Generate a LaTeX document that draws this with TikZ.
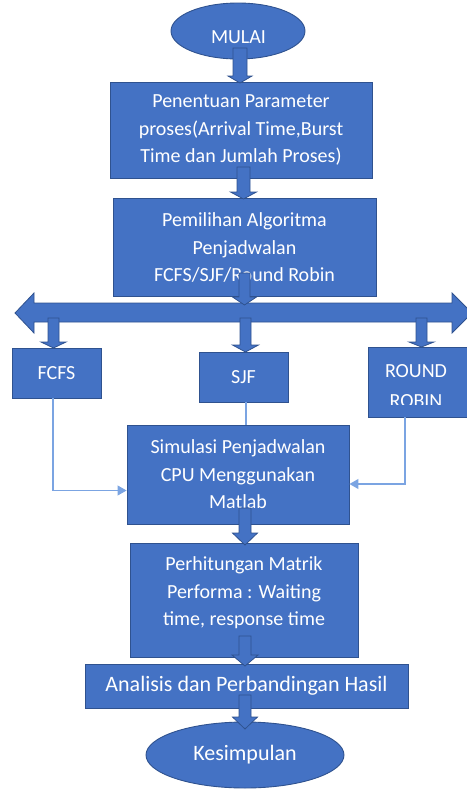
\documentclass[tikz,border=0pt]{standalone}
\usepackage{fontspec}
\setmainfont{Carlito}
\usetikzlibrary{shapes.geometric,arrows.meta}
\definecolor{fillb}{HTML}{4472C4}
\definecolor{edgeb}{HTML}{2F528F}
\definecolor{linkb}{HTML}{7BA4E2}
\tikzset{
  boxfont/.style={font=\fontsize{20}{27.5}\selectfont},
  bigfont/.style={font=\fontsize{22}{27.5}\selectfont},
  box/.style={draw=edgeb, fill=fillb, line width=0.9pt, text=white, align=center, boxfont, inner sep=0pt},
  oval/.style={box, ellipse},
  txt/.style={text=white, align=center, boxfont, inner sep=0pt},
  blk/.style={draw=edgeb, fill=fillb, line width=0.8pt, line join=miter},
  conn/.style={draw=linkb, line width=1.1pt},
  connarrow/.style={conn, -{Triangle[length=9pt,width=10pt]}}
}
% #1 centre x, #2 top y, #3 head base y, #4 tip y, #5 half shaft, #6 half head
\newcommand{\blockdown}[6]{%
  \filldraw[blk] ({#1-#5},#2) -- ({#1+#5},#2) -- ({#1+#5},#3) -- ({#1+#6},#3)
    -- (#1,#4) -- ({#1-#6},#3) -- ({#1-#5},#3) -- cycle;}
\begin{document}
\begin{tikzpicture}[x=1pt,y=-1pt]
\useasboundingbox (0,0) rectangle (466,790);

% nodes
\node[oval, minimum width=134pt, minimum height=56pt] (mulai) at (238,31) {};
\node[txt] (mulaitxt) at (238.5,37) {MULAI};
\node[box, minimum width=262pt, minimum height=96pt] (p1) at (241,130)
  {Penentuan Parameter\\proses(Arrival Time,Burst\\Time dan Jumlah Proses)};
\node[box, minimum width=263pt, minimum height=98pt] (p2) at (244.5,247.5)
  {Pemilihan Algoritma\\Penjadwalan\\FCFS/SJF/Round Robin};
\node[box, minimum width=89pt, minimum height=50pt] (fcfs) at (56.5,373) {FCFS};
\node[box, minimum width=89pt, minimum height=50pt] (sjf) at (243.5,377) {SJF};
\node[box, minimum width=100pt, minimum height=70pt] (rr) at (418,382) {};
\begin{scope}
  \clip (368,347) rectangle (470,404.2);
  \node[txt, font=\fontsize{20}{30}\selectfont] (rrtxt) at (416,386.5) {ROUND\\ROBIN};
\end{scope}
\node[box, minimum width=222pt, minimum height=99pt] (sim) at (238,474.5)
  {Simulasi Penjadwalan\\CPU Menggunakan\\Matlab};
\node[box, minimum width=228pt, minimum height=114pt] (perh) at (244,600) {};
\node[txt] (perhtxt) at (244,593)
  {Perhitungan Matrik\\Performa : Waiting\\time, response time};
\node[box, bigfont, minimum width=323pt, minimum height=44pt] (anal) at (246.5,686)
  {Analisis dan Perbandingan Hasil};
\node[oval, minimum width=198pt, minimum height=66pt] (kes) at (245,755) {};
\node[txt, bigfont] (kestxt) at (245,755) {Kesimpulan};

% block arrows
\blockdown{240}{48}{76}{83}{7}{12}
\blockdown{243.5}{167}{192}{199}{6.5}{13}
% horizontal double block arrow
\filldraw[blk] (15,313) -- (34,293) -- (34,303) -- (452,303) -- (452,293)
  -- (472,313) -- (452,333) -- (452,322) -- (34,322) -- (34,333) -- cycle;
\blockdown{244.5}{273}{297}{305}{5.5}{12}
\blockdown{53.5}{318}{342}{348}{5.5}{12.5}
\blockdown{245.5}{318}{345}{352}{5.5}{13}
\blockdown{421.5}{318}{342}{347}{5.5}{12.5}
\blockdown{245}{508}{533}{545}{6}{12.5}
\blockdown{245}{636}{655}{666}{6}{13}
\blockdown{245}{695}{717}{729}{6}{12.5}

% thin connectors
\draw[connarrow] ([xshift=-3.5pt]fcfs.south) |- ([yshift=-16pt]sim.west);
\draw[conn] ([xshift=2.5pt]sjf.south) -- ([xshift=2.5pt]sjf.south |- sim.north);
\draw[connarrow] ([xshift=-13pt]rr.south) |- ([yshift=-9.5pt]sim.east);
\end{tikzpicture}
\end{document}
